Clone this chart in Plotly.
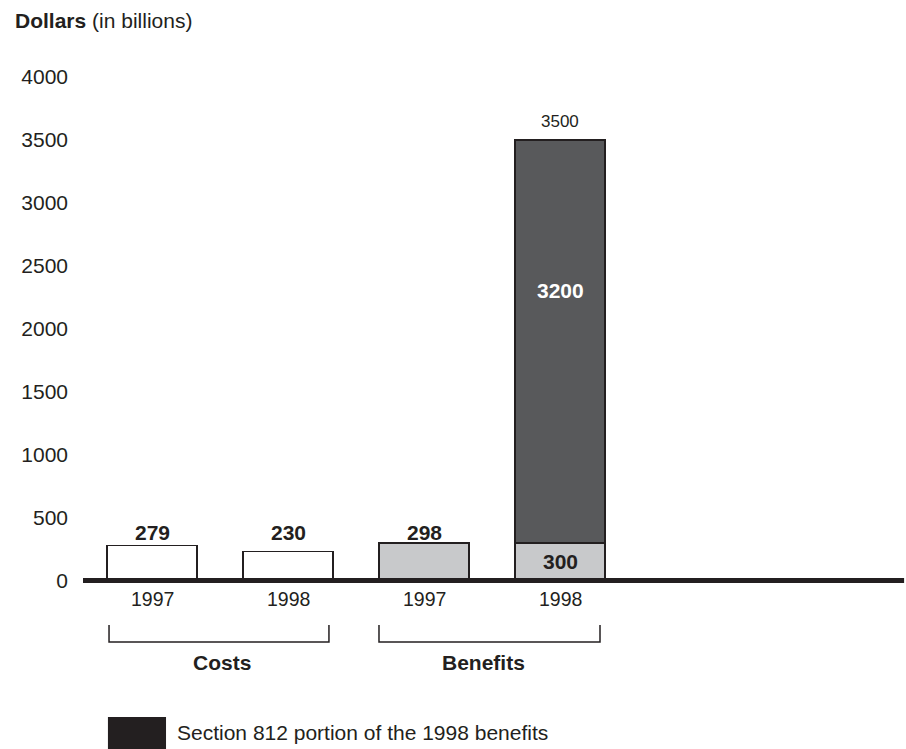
import plotly.graph_objects as go

# ---- data ----
years = ["1997", "1998", "1997", "1998"]
groups = ["Costs", "Benefits"]
base_values = [279, 230, 298, 300]          # costs and base benefits
section812 = [0, 0, 0, 3200]                # Section 812 portion (1998 benefits)
totals = [279, 230, 298, 3500]
base_labels = ["279", "230", "298", "300"]
ytick_vals = [0, 500, 1000, 1500, 2000, 2500, 3000, 3500, 4000]
legend_text = "Section 812 portion of the 1998 benefits"

FONT = "Liberation Sans, Arial, Helvetica, sans-serif"
INK = "#231f20"
positions = list(range(len(years)))
base_colors = ["#ffffff", "#ffffff", "#c8c9cb", "#c8c9cb"]

fig = go.Figure()
fig.add_trace(go.Bar(
    x=positions, y=base_values, width=0.665,
    marker=dict(color=base_colors, line=dict(color=INK, width=1.5)),
    hoverinfo="skip", showlegend=False,
))
fig.add_trace(go.Bar(
    x=positions, y=section812, width=0.665,
    marker=dict(color="#58595b", line=dict(color=INK, width=1.5)),
    hoverinfo="skip", showlegend=False,
))

annotations = []
label_level = max(b for b, s in zip(base_values, section812) if s == 0)
# value labels
for i, (b, s, t) in enumerate(zip(base_values, section812, totals)):
    if s > 0:
        annotations.append(dict(x=i, y=b / 2, text="<b>%s</b>" % base_labels[i],
                                showarrow=False, font=dict(size=21, color=INK, family=FONT)))
        annotations.append(dict(x=i, y=b + s * 0.625, text="<b>%d</b>" % s,
                                showarrow=False, font=dict(size=21, color="#ffffff", family=FONT)))
        annotations.append(dict(x=i, y=t, yanchor="bottom", yshift=7, text=str(t),
                                showarrow=False, font=dict(size=17, color=INK, family=FONT)))
    else:
        annotations.append(dict(x=i, y=label_level, yanchor="middle", yshift=11,
                                text="<b>%s</b>" % base_labels[i],
                                showarrow=False, font=dict(size=21, color=INK, family=FONT)))
# year labels under axis
for i, yr in enumerate(years):
    annotations.append(dict(x=i, y=-147, text=yr, showarrow=False,
                            font=dict(size=19.5, color=INK, family=FONT)))

# brackets and group labels
brackets = [(-0.316, 1.301), (1.669, 3.294)]
group_centers = [0.515, 2.44]
shapes = []
for (x0, x1), g, gc in zip(brackets, groups, group_centers):
    shapes.append(dict(type="path",
                       path="M %f,-353 L %f,-488 L %f,-488 L %f,-353" % (x0, x0, x1, x1),
                       line=dict(color=INK, width=1.5), layer="above"))
    annotations.append(dict(x=gc, y=-655, text="<b>%s</b>" % g, showarrow=False,
                            font=dict(size=21, color=INK, family=FONT)))

# baseline
shapes.append(dict(type="line", x0=-0.5074, x1=5.53, y0=0, y1=0,
                   line=dict(color=INK, width=5), layer="above"))
# legend
shapes.append(dict(type="rect", x0=-0.324, x1=0.103, y0=-1084, y1=-1345,
                   fillcolor=INK, line=dict(width=0), layer="above"))
annotations.append(dict(x=0.169, y=-1211, xanchor="left", text=legend_text, showarrow=False,
                        font=dict(size=21, color=INK, family=FONT)))

# axis title
annotations.append(dict(xref="paper", yref="paper", x=-83 / 823, y=1, yshift=65 - 20,
                        xshift=13, xanchor="left", yanchor="middle",
                        text="<b>Dollars</b> (in billions)", showarrow=False,
                        font=dict(size=21, color=INK, family=FONT)))

fig.update_layout(
    width=906, height=749,
    margin=dict(l=83, r=0, t=65, b=0, pad=0),
    paper_bgcolor="white", plot_bgcolor="white",
    barmode="stack",
    xaxis=dict(range=[-0.5074, 5.544], showgrid=False, zeroline=False,
               showticklabels=False, showline=False, fixedrange=True),
    yaxis=dict(range=[-1338.4, 4095.3], tickvals=ytick_vals,
               ticktext=[str(v) for v in ytick_vals], showgrid=False, zeroline=False,
               showline=False, ticks="", ticklabelstandoff=14,
               tickfont=dict(size=21, color=INK, family=FONT), fixedrange=True),
    annotations=annotations, shapes=shapes,
    showlegend=False,
)

fig.write_html("out.html")
